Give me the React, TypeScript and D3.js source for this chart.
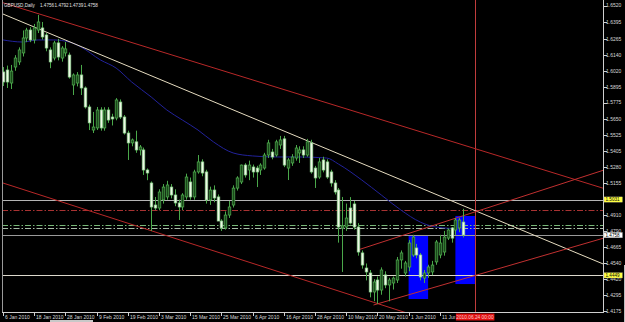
import React from 'react';
import * as d3 from 'd3';

// ---------- data ----------
const symbolTitle = 'GBPUSD,Daily';
const titleQuote = ['1.4756', '1.4792', '1.4739', '1.4758'];

const dates = [
  '01.06','01.07','01.08','01.11','01.12','01.13','01.14','01.15','01.18','01.19','01.20','01.21','01.22','01.25','01.26','01.27','01.28','01.29',
  '02.01','02.02','02.03','02.04','02.05','02.08','02.09','02.10','02.11','02.12','02.15','02.16','02.17','02.18','02.19','02.22','02.23','02.24','02.25','02.26',
  '03.01','03.02','03.03','03.04','03.05','03.08','03.09','03.10','03.11','03.12','03.15','03.16','03.17','03.18','03.19','03.22','03.23','03.24','03.25','03.26','03.29','03.30','03.31',
  '04.01','04.02','04.05','04.06','04.07','04.08','04.09','04.12','04.13','04.14','04.15','04.16','04.19','04.20','04.21','04.22','04.23','04.26','04.27','04.28','04.29','04.30',
  '05.03','05.04','05.05','05.06','05.07','05.10','05.11','05.12','05.13','05.14','05.17','05.18','05.19','05.20','05.21','05.24','05.25','05.26','05.27','05.28','05.31',
  '06.01','06.02','06.03','06.04','06.07','06.08','06.09','06.10','06.11','06.14','06.15','06.16','06.17','06.18','06.21',
];
const futureDates = ['06.22', '06.23', '06.24'];

const open = [
  1.6011,1.6026,1.5926,1.6049,1.6088,1.6157,1.6272,1.6333,1.6257,1.6333,1.6349,1.6295,1.6180,1.6118,1.6234,1.6118,1.6157,1.6141,
  1.5911,1.5926,1.5988,1.5888,1.5742,1.5565,1.5581,1.5719,1.5581,1.5719,1.5665,1.5657,1.5780,1.5665,1.5542,1.5466,1.5474,1.5412,1.5412,1.5258,
  1.5158,1.4989,1.4966,1.5028,1.5051,1.5127,1.5066,1.5005,1.4974,1.5051,1.5166,1.5051,1.5243,1.5320,1.5243,1.5028,1.5104,1.5051,1.4866,1.4813,1.4912,1.4989,1.5119,
  1.5166,1.5296,1.5258,1.5281,1.5273,1.5258,1.5273,1.5373,1.5396,1.5373,1.5450,1.5497,1.5273,1.5312,1.5350,1.5389,1.5412,1.5373,1.5466,1.5273,1.5204,1.5335,
  1.5320,1.5243,1.5158,1.5104,1.4813,1.4820,1.4966,1.4997,1.4820,1.4621,1.4505,1.4467,1.4321,1.4413,1.4336,1.4452,1.4375,1.4390,1.4413,1.4567,1.4467,
  1.4513,1.4605,1.4659,1.4605,1.4428,1.4467,1.4475,1.4552,1.4605,1.4628,1.4735,1.4813,1.4797,1.4813,1.4858,
];
const high = [
  1.6049,1.6060,1.6065,1.6140,1.6200,1.6330,1.6350,1.6355,1.6380,1.6449,1.6395,1.6310,1.6200,1.6250,1.6265,1.6210,1.6241,1.6160,
  1.6000,1.6010,1.6065,1.5900,1.5760,1.5704,1.5742,1.5740,1.5740,1.5740,1.5690,1.5810,1.5800,1.5680,1.5560,1.5500,1.5560,1.5450,1.5430,1.5270,
  1.5170,1.5051,1.5110,1.5150,1.5175,1.5150,1.5110,1.5030,1.5080,1.5230,1.5200,1.5260,1.5373,1.5340,1.5260,1.5130,1.5140,1.5070,1.4880,1.4940,1.5020,1.5140,1.5210,
  1.5300,1.5310,1.5330,1.5300,1.5290,1.5310,1.5390,1.5490,1.5420,1.5490,1.5520,1.5520,1.5350,1.5380,1.5450,1.5440,1.5440,1.5497,1.5490,1.5290,1.5350,1.5360,
  1.5340,1.5260,1.5180,1.5120,1.5051,1.5000,1.5050,1.5020,1.4850,1.4640,1.4540,1.4490,1.4420,1.4440,1.4510,1.4480,1.4430,1.4440,1.4590,1.4640,1.4560,
  1.4720,1.4760,1.4690,1.4620,1.4490,1.4530,1.4560,1.4720,1.4760,1.4790,1.4810,1.4820,1.4890,1.4890,1.4960,
];
const low = [
  1.5903,1.5888,1.5880,1.6020,1.6065,1.6130,1.6240,1.6240,1.6230,1.6310,1.6260,1.6170,1.6040,1.6100,1.6100,1.6090,1.6130,1.5960,
  1.5834,1.5900,1.5834,1.5730,1.5565,1.5542,1.5565,1.5560,1.5560,1.5620,1.5600,1.5640,1.5650,1.5530,1.5335,1.5440,1.5390,1.5370,1.5220,1.5180,
  1.4790,1.4951,1.4950,1.5000,1.5030,1.5040,1.4980,1.4874,1.4950,1.5030,1.5030,1.5030,1.5230,1.5210,1.5000,1.4990,1.5010,1.4870,1.4790,1.4800,1.4890,1.4970,1.5100,
  1.5150,1.5200,1.5180,1.5200,1.5127,1.5220,1.5260,1.5350,1.5340,1.5360,1.5420,1.5280,1.5181,1.5290,1.5330,1.5312,1.5350,1.5360,1.5230,1.5120,1.5190,1.5240,
  1.5190,1.5130,1.5070,1.4700,1.4475,1.4790,1.4840,1.4800,1.4600,1.4500,1.4410,1.4280,1.4250,1.4230,1.4300,1.4350,1.4250,1.4340,1.4390,1.4500,1.4440,
  1.4480,1.4590,1.4580,1.4410,1.4390,1.4430,1.4450,1.4530,1.4580,1.4600,1.4720,1.4700,1.4760,1.4780,1.4740,
];
const close = [
  1.5934,1.5934,1.6018,1.6118,1.6180,1.6272,1.6333,1.6257,1.6349,1.6395,1.6280,1.6195,1.6088,1.6234,1.6126,1.6195,1.6188,1.5972,
  1.5988,1.5988,1.5888,1.5742,1.5620,1.5588,1.5719,1.5581,1.5719,1.5642,1.5650,1.5796,1.5665,1.5542,1.5466,1.5489,1.5412,1.5435,1.5258,1.5235,
  1.4974,1.4966,1.5089,1.5127,1.5143,1.5066,1.5005,1.4974,1.5066,1.5204,1.5051,1.5243,1.5320,1.5235,1.5028,1.5104,1.5043,1.4866,1.4813,1.4912,1.4974,1.5119,1.5197,
  1.5296,1.5220,1.5296,1.5243,1.5243,1.5296,1.5373,1.5466,1.5358,1.5474,1.5489,1.5296,1.5335,1.5358,1.5427,1.5412,1.5373,1.5474,1.5243,1.5197,1.5320,1.5258,
  1.5204,1.5158,1.5089,1.4820,1.4828,1.4889,1.4851,1.4820,1.4628,1.4528,1.4475,1.4321,1.4398,1.4336,1.4490,1.4375,1.4413,1.4428,1.4567,1.4621,1.4544,
  1.4697,1.4743,1.4605,1.4436,1.4467,1.4513,1.4528,1.4705,1.4697,1.4743,1.4797,1.4735,1.4874,1.4874,1.4759,
];

// moving average read at some bars
const maDates = ['01.06','01.13','01.19','01.25','01.29','02.03','02.10','02.16','02.22','03.01','03.05','03.11','03.17','03.23','03.30','04.06','04.14','04.22','05.03','05.06','05.14','05.21','05.28','06.04','06.10','06.21'];
const maValue = [1.6257,1.6241,1.6257,1.6257,1.6241,1.6203,1.6103,1.6041,1.5934,1.5819,1.5719,1.5642,1.5565,1.5473,1.5389,1.5366,1.5358,1.5358,1.5350,1.5304,1.5181,1.5066,1.4951,1.4858,1.4820,1.4805];

// axes
const xTickDates = ['01.06','01.18','01.28','02.09','02.19','03.03','03.15','03.25','04.06','04.16','04.28','05.10','05.20','06.01','06.11'];
const xTickLabels = ['6 Jan 2010','18 Jan 2010','28 Jan 2010','9 Feb 2010','19 Feb 2010','3 Mar 2010','15 Mar 2010','25 Mar 2010','6 Apr 2010','16 Apr 2010','28 Apr 2010','10 May 2010','20 May 2010','1 Jun 2010','11 Jun 2010'];
const yTickValues = [1.6520,1.6395,1.6265,1.6140,1.6020,1.5895,1.5775,1.5650,1.5525,1.5405,1.5280,1.5155,1.4910,1.4790,1.4665,1.4540,1.4420,1.4295,1.4175];
const yTickLabels = ['1.6520','1.6395','1.6265','1.6140','1.6020','1.5895','1.5775','1.5650','1.5525','1.5405','1.5280','1.5155','1.4910','1.4790','1.4665','1.4540','1.4420','1.4295','1.4175'];

// horizontal levels
const levelValues = [1.5031, 1.4951, 1.4835, 1.4813, 1.4758, 1.4449];
const levelColors = ['#b4b4b4', '#a83232', '#78b878', '#a8bca8', '#9a9a9a', '#dcd8cc'];
const levelDashed = [false, true, true, true, false, false];
const levelLabels = ['1.5031', '', '', '', '1.4758', '1.4449'];
const levelLabelBg = ['#ffff44', '', '', '', '#ffffff', '#ffff44'];

// trend lines as (bar, price) anchor pairs
const trendA = [[0, 1.6456], [2, 1.6524], [0, 1.5158], [91, 1.4644], [95, 1.4221]];
const trendB = [[145, 1.4647], [150, 1.5154], [100, 1.4194], [150, 1.5218], [150, 1.4700]];
const trendColors = ['#e6dcc0', '#b82828', '#b82828', '#c03030', '#c03030'];
const trendFromLeft = [true, true, true, false, false];

// rectangles
const rectFrom = ['06.01', '06.17'];
const rectTo = ['06.08', '06.24'];
const rectTop = [1.4759, 1.4905];
const rectBottom = [1.4267, 1.4382];

const vLineDate = '06.24';
const vLineLabel = '2010.06.24 00:00';

// ---------- component ----------
const allDates = [...dates, ...futureDates];
const idx = (d: string) => allDates.indexOf(d);

export default function App() {
  const W = 625, H = 322;
  const plotL = 2, plotR = 603, plotT = 0, plotB = 312;
  const x = d3.scaleLinear().domain([0, 1]).range([3, 6.9]);
  const y = d3.scaleLinear().domain([1.4175, 1.651]).range([311, 7]);
  const font = 'Liberation Sans, Arial, sans-serif';

  const maPath = d3.line<number>()
    .x((_, i) => x(idx(maDates[i])))
    .y((d) => y(d))
    .curve(d3.curveMonotoneX)(maValue) || '';

  const trendSegs = trendA.map((a, k) => {
    const b = trendB[k];
    const x1 = x(a[0]), y1 = y(a[1]), x2 = x(b[0]), y2 = y(b[1]);
    const s = (y2 - y1) / (x2 - x1);
    const xs = trendFromLeft[k] ? plotL : x1;
    return { x1: xs, y1: y1 + s * (xs - x1), x2: plotR, y2: y1 + s * (plotR - x1) };
  });

  const vx = x(idx(vLineDate));

  return (
    <svg width={W} height={H} style={{ position: 'absolute', left: 0, top: 0, display: 'block', background: '#000' }}>
      <defs>
        <clipPath id="plot">
          <rect x={plotL} y={plotT} width={plotR - plotL} height={plotB - plotT} />
        </clipPath>
        <clipPath id="xlab">
          <rect x={0} y={312} width={vx - 19.5} height={10} />
        </clipPath>
      </defs>
      <rect x={0} y={0} width={W} height={H} fill="#000" />

      <g clipPath="url(#plot)">
        {rectFrom.map((f, k) => (
          <rect key={'r' + k} x={x(idx(f))} y={y(rectTop[k])}
            width={x(idx(rectTo[k])) - x(idx(f))} height={y(rectBottom[k]) - y(rectTop[k])} fill="#0000ff" />
        ))}
        {levelValues.map((v, k) => (
          <line key={'h' + k} x1={plotL} x2={plotR} y1={Math.round(y(v)) + 0.5} y2={Math.round(y(v)) + 0.5}
            stroke={levelColors[k]} strokeWidth={1} strokeDasharray={levelDashed[k] ? '6 2 1.5 2' : undefined} />
        ))}
        <rect x={Math.round(vx)} y={plotT} width={1} height={plotB - plotT} fill="#c03c3c" />
        <path d={maPath} fill="none" stroke="#22229a" strokeWidth={1} />
        {trendSegs.map((s, k) => (
          <line key={'t' + k} x1={s.x1} y1={s.y1} x2={s.x2} y2={s.y2} stroke={trendColors[k]} strokeWidth={1} />
        ))}
        {dates.map((d, i) => {
          const cx = Math.round(x(i)) + 0.5;
          const o = open[i], c = close[i];
          const bull = c >= o;
          const top = y(Math.max(o, c)), bot = y(Math.min(o, c));
          return (
            <g key={d}>
              <line x1={cx} x2={cx} y1={y(high[i])} y2={y(low[i])} stroke="#4aa84a" strokeWidth={1} />
              <rect x={cx - 1.3} y={top} width={2.6} height={Math.max(0.8, bot - top)}
                fill={bull ? '#1a4a1a' : '#eef8e6'} stroke={bull ? '#52b052' : '#8fd48f'} strokeWidth={0.7} />
            </g>
          );
        })}
      </g>

      {/* frame */}
      <line x1={plotL + 0.5} x2={plotL + 0.5} y1={0} y2={plotB} stroke="#9a9a9a" />
      <line x1={plotR + 0.5} x2={plotR + 0.5} y1={0} y2={plotB + 0.5} stroke="#cfcfcf" />
      <line x1={plotL} x2={plotR + 1} y1={plotB + 0.5} y2={plotB + 0.5} stroke="#cfcfcf" />

      {/* title */}
      <text x={4} y={6.5} fontFamily={font} fontSize={4.6} fill="#e0e0e0">{symbolTitle}</text>
      {titleQuote.map((q, k) => (
        <text key={'q' + k} x={40 + k * 14.6} y={6.5} fontFamily={font} fontSize={4.6} fill="#e0e0e0">{q}</text>
      ))}

      {/* right axis */}
      {yTickValues.map((v, k) => (
        <g key={'yt' + k}>
          <line x1={plotR + 1} x2={plotR + 4} y1={Math.round(y(v)) + 0.5} y2={Math.round(y(v)) + 0.5} stroke="#cfcfcf" />
          <text x={606} y={y(v)} dy="0.35em" fontFamily={font} fontSize={5} fill="#d8d8d8">{yTickLabels[k]}</text>
        </g>
      ))}
      {levelValues.map((v, k) => levelLabels[k] ? (
        <g key={'ll' + k}>
          <rect x={604} y={y(v) - 2.7} width={18.5} height={5.4} fill={levelLabelBg[k]} stroke="#808080" strokeWidth={0.3} />
          <text x={605.5} y={y(v)} dy="0.35em" fontFamily={font} fontSize={4.6} fill="#000">{levelLabels[k]}</text>
        </g>
      ) : null)}

      {/* bottom axis */}
      {xTickDates.map((d, k) => {
        const tx = Math.round(x(idx(d))) + 0.5;
        return (
          <g key={'xt' + k}>
            <line x1={tx} x2={tx} y1={plotB} y2={plotB + 4} stroke="#cfcfcf" />
            <text x={tx + 1.5} y={318.5} fontFamily={font} fontSize={5} fill="#d8d8d8" clipPath="url(#xlab)">{xTickLabels[k]}</text>
          </g>
        );
      })}
      <rect x={vx - 19} y={313.5} width={38.5} height={7} fill="#e01010" />
      <text x={vx} y={318.8} textAnchor="middle" fontFamily={font} fontSize={4.8} fill="#ffc8c8">{vLineLabel}</text>

      {/* window bits */}
      <rect x={50} y={320} width={43} height={2} fill="#c8c8c8" />
      <line x1={624.5} x2={624.5} y1={265} y2={322} stroke="#bdbdbd" />
    </svg>
  );
}
